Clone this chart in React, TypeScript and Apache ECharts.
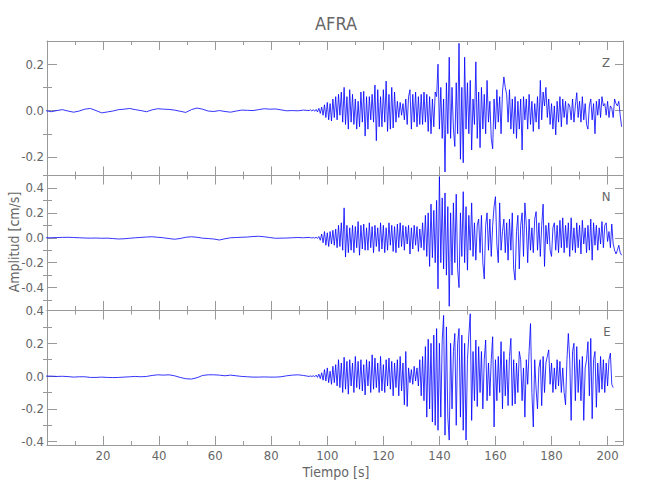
import React, { useEffect, useRef } from "react";
import * as echarts from "echarts";

const TITLE = "AFRA";
const X_NAME = "Tiempo [s]";
const Y_NAME = "Amplitud [cm/s]";
const COMPONENTS = ["Z", "N", "E"];

// sampling of the traces (seconds)
const QUIET_START = -0.5;
const QUIET_STEP = 2;
const ACTIVE_START = 94;
const ACTIVE_STEP = 0.5;

const X_MIN = 0;
const X_MAX = 205.5;
const X_INTERVAL = 20;

// y ranges (cm/s) and ticks of each panel
const Y_RANGES = [
  [-0.28, 0.3],
  [-0.58, 0.5],
  [-0.42, 0.4],
];
const Y_MAJOR = [
  [-0.2, 0, 0.2],
  [-0.4, -0.2, 0, 0.2, 0.4],
  [-0.4, -0.2, 0, 0.2, 0.4],
];
const Y_MINOR = [
  [-0.1, 0.1],
  [-0.5, -0.3, -0.1, 0.1, 0.3, 0.5],
  [-0.3, -0.1, 0.1, 0.3],
];

// pre-event noise
const zQuiet = [0, -.005, 0, .004, -.002, -.007, -.002, .006, .009, 0,
  -.01, -.006, -.002, .004, .006, .009, .004, 0, -.005, .003,
  .008, .006, .005, .002, -.003, -.008, .004, .011, .006, -.002,
  -.004, 0, -.004, -.007, -.002, .002, .001, 0, .004, .008,
  .006, .007, .003, -.001, 0, -.001, .002, 0];
const nQuiet = [0, 0, .002, .003, .004, .002, 0, -.002, -.003, -.002,
  -.004, -.003, -.006, -.01, -.008, -.004, 0, .003, .006, .008,
  .004, 0, -.006, -.012, -.006, .004, .008, .004, -.003, -.006,
  -.01, -.018, -.008, 0, .002, .004, .006, .01, .012, .008,
  .002, -.004, -.003, -.002, 0, .002, 0, .003];
const eQuiet = [0, 0, -.002, -.001, -.003, -.006, -.004, -.004, -.008, -.008,
  -.006, -.008, -.009, -.008, -.006, -.004, -.002, -.004, -.002, .004,
  .008, .006, .008, .002, -.008, -.016, -.018, -.01, .004, .008,
  .008, .006, .002, .006, .002, -.002, -.004, -.006, -.006, -.005,
  -.006, -.006, -.004, .002, .006, .008, .004, -.002];

// event
const zActive = [
  .003, -.002, .004, -.003, .005, -.006, .01, -.012, .015, -.02,
  .025, -.03, .035, -.04, .03, -.045, .05, -.03, .06, -.04,
  .07, -.02, .08, -.05, .1, -.06, .06, -.08, .09, -.05,
  .07, -.06, .05, -.08, .04, -.07, .08, -.05, .083, -.11,
  .06, -.08, .06, -.04, .07, -.05, .11, -.13, .09, -.07,
  .06, -.07, .09, -.05, .127, -.09, .07, -.08, .1, -.075,
  .08, -.05, .04, -.03, .035, -.02, .03, -.04, .05, -.06,
  .06, .09, -.08, .07, -.05, .08, -.07, .06, -.06, .07,
  -.06, .08, -.05, .07, -.09, .06, -.1, .05, -.07, .08,
  .06, .2, -.08, .1, -.12, .05, -.265, .12, -.1, .23,
  -.12, .1, -.08, -.155, .12, -.1, .29, -.21, .1, -.225,
  .23, -.08, .12, -.1, .13, -.17, .05, -.06, .21, -.12,
  .08, -.16, .1, -.08, .07, -.1, .13, -.05, .04, -.12,
  -.165, .05, -.08, .09, -.05, .06, -.1, .08, .145, .1,
  .07, -.05, .09, -.08, .05, -.1, .06, -.12, .04, -.08,
  .05, -.17, .06, -.04, .05, -.08, .07, -.06, .04, -.09,
  .03, -.05, .06, -.08, .13, -.04, .08, .02, .1, -.03,
  .05, -.06, .03, -.08, .02, -.105, .04, -.05, .06, -.07,
  .05, -.03, .04, -.06, .03, .02, -.04, .05, -.05, .02,
  .077, -.03, .04, -.05, .06, -.04, .03, -.06, -.08, .02,
  .05, -.04, .03, -.1, .04, -.02, .05, -.03, .06, .02,
  .03, -.02, .04, -.03, .02, .01, -.03, .05, .03, .02,
  .04, -.02, -.07];
const nActive = [
  .001, -.002, .002, -.003, .004, -.005, .01, -.02, .03, -.04,
  .05, -.06, .04, -.07, .05, -.05, .06, -.06, .07, -.08,
  .1, -.07, .12, -.1, .24, -.155, .1, -.12, .08, -.1,
  .1, -.12, .09, -.08, .13, -.14, .1, -.09, .11, -.1,
  .08, -.1, .12, -.08, .09, -.12, .1, -.07, .08, -.11,
  .12, -.09, .1, -.12, .08, -.1, .12, -.06, .1, -.11,
  .09, -.12, .11, -.08, .12, -.07, .1, -.1, .09, -.05,
  .1, -.13, .08, -.09, .1, -.06, .09, -.11, .07, -.08,
  .12, -.1, .18, -.15, .2, -.23, .27, -.16, .22, -.2,
  .3, -.41, .49, -.2, .32, -.25, .36, -.3, .25, -.55,
  .2, -.3, .28, -.2, .35, -.25, -.4, .2, -.15, .37,
  -.2, .25, -.26, .18, -.1, .28, -.15, .12, -.18, .1,
  .15, -.12, .18, -.2, -.33, .1, .2, -.1, .15, -.15,
  .1, .25, .33, -.05, -.2, .28, -.1, .05, .15, -.12,
  .12, -.18, .15, -.1, .2, -.25, -.34, .05, .18, -.25,
  .1, .2, -.15, .28, .1, -.2, .15, -.1, .08, -.12,
  .15, .21, -.1, .12, -.15, .1, .27, -.23, .1, -.05,
  .12, -.1, -.15, .08, .12, -.1, .1, -.12, .14, -.08,
  .16, -.12, .1, -.08, .12, -.15, .16, -.1, .08, -.12,
  .12, -.08, .1, -.13, .14, -.05, .08, -.12, .1, -.1,
  .15, -.18, .12, -.06, .1, -.1, .08, -.05, .13, -.08,
  .1, .12, -.03, .05, -.08, .11, -.05, -.1, -.13, -.1,
  -.06, -.12, -.14];
const eActive = [
  .001, -.002, .002, -.004, .006, -.008, .012, -.015, .02, -.025,
  .04, -.03, .05, -.04, .03, -.05, .06, -.04, .07, -.06,
  .1, -.07, .08, -.1, .115, -.08, .09, -.11, .1, -.06,
  .08, -.1, .12, -.07, .09, -.08, .1, -.09, .07, -.115,
  .1, -.06, .09, -.1, .13, -.08, .11, -.07, .08, -.1,
  .12, -.09, .07, -.1, .1, -.06, .11, -.08, .09, -.12,
  .08, -.07, .1, -.12, .12, -.09, .08, -.175, .15, -.185,
  .05, -.04, .04, -.05, .06, -.03, .05, -.06, .1, -.12,
  .12, -.15, .18, -.25, .225, -.2, .2, -.28, .25, -.3,
  .29, -.33, .2, -.25, .22, .37, -.36, .3, -.25, -.39,
  .2, -.2, .15, .26, -.3, .2, .29, -.25, .25, -.33,
  .2, -.39, .1, .25, .38, -.27, .15, -.15, .22, -.185,
  .18, -.1, .15, -.2, .1, .22, -.15, .08, -.12, .1,
  .24, -.31, .1, -.15, .12, -.1, .21, -.2, .15, -.12,
  .1, -.18, .12, .23, -.18, .1, -.17, .08, -.1, .15,
  .1, -.15, .05, -.25, .1, -.05, .15, .32, -.1, -.31,
  .1, -.08, -.2, .05, .1, -.18, .12, -.1, .08, .12,
  .16, -.05, .08, -.1, .05, -.08, .1, -.06, .09, -.1,
  .05, -.1, -.175, .1, .26, .1, -.27, .15, .2, -.15,
  .18, -.1, .1, -.15, .12, -.27, .05, .1, .21, -.12,
  .23, -.26, .1, .15, -.19, .08, -.1, .12, -.08, .1,
  -.1, .08, -.06, .1, .14, -.05, -.07];

const QUIET = [zQuiet, nQuiet, eQuiet];
const ACTIVE = [zActive, nActive, eActive];

const FONT = "'Liberation Sans Narrow', 'DejaVu Sans Condensed', 'Liberation Sans', sans-serif";
const TEXT_COLOR = "#666";
const FRAME_COLOR = "#999";
const TRACE_COLOR = "#0000ff";

const GRID_LEFT = 47;
const GRID_WIDTH = 576;
const GRID_TOPS = [41, 175.5, 310.5];
const GRID_HEIGHT = 134.5;

function buildTrace(quiet: number[], active: number[]): number[][] {
  const pts: number[][] = [];
  quiet.forEach((v, i) => pts.push([QUIET_START + i * QUIET_STEP, v]));
  active.forEach((v, i) => pts.push([ACTIVE_START + i * ACTIVE_STEP, v]));
  return pts;
}

function fmt(v: number): string {
  return Math.abs(v) < 1e-9 ? "0.0" : v.toFixed(1);
}

export default function App() {
  const ref = useRef<HTMLDivElement>(null);
  useEffect(() => {
    if (!ref.current) return;
    const chart = echarts.init(ref.current, undefined, { renderer: "svg" });
    const grid: any[] = [];
    const xAxis: any[] = [];
    const yAxis: any[] = [];
    const series: any[] = [];
    const lineStyle = { color: FRAME_COLOR, width: 1 };
    for (let i = 0; i < 3; i++) {
      grid.push({ left: GRID_LEFT, top: GRID_TOPS[i], width: GRID_WIDTH, height: GRID_HEIGHT });
      ["bottom", "top"].forEach((pos) => {
        xAxis.push({
          type: "value",
          gridIndex: i,
          position: pos,
          min: X_MIN,
          max: X_MAX,
          interval: X_INTERVAL,
          axisLine: { show: true, onZero: false, lineStyle },
          axisTick: { show: true, inside: true, length: 9, lineStyle },
          minorTick: { show: true, splitNumber: 2, length: 4, lineStyle },
          splitLine: { show: false },
          minorSplitLine: { show: false },
          axisLabel: {
            show: i === 2 && pos === "bottom",
            showMinLabel: false,
            showMaxLabel: false,
            color: TEXT_COLOR,
            fontFamily: FONT,
            fontSize: 13,
            margin: 4,
            formatter: (v: number) => (v <= 0 || v > 200 ? "" : String(v)),
          },
        });
      });
      const [ymin, ymax] = Y_RANGES[i];
      const base = { type: "value", gridIndex: i, min: ymin, max: ymax, splitLine: { show: false } };
      yAxis.push({
        ...base,
        position: "left",
        axisLine: { show: true, onZero: false, lineStyle },
        axisTick: { show: true, inside: true, length: 10, lineStyle, customValues: Y_MAJOR[i] },
        axisLabel: {
          show: true,
          customValues: Y_MAJOR[i],
          formatter: fmt,
          color: TEXT_COLOR,
          fontFamily: FONT,
          fontSize: 13,
          margin: 3,
        },
      });
      yAxis.push({
        ...base,
        position: "left",
        axisLine: { show: false },
        axisTick: { show: true, inside: true, length: 5, lineStyle, customValues: Y_MINOR[i] },
        axisLabel: { show: false },
      });
      yAxis.push({
        ...base,
        position: "right",
        axisLine: { show: true, onZero: false, lineStyle },
        axisTick: { show: true, inside: true, length: 8, lineStyle, customValues: Y_MAJOR[i] },
        axisLabel: { show: false },
      });
      yAxis.push({
        ...base,
        position: "right",
        axisLine: { show: false },
        axisTick: { show: true, inside: true, length: 4, lineStyle, customValues: Y_MINOR[i] },
        axisLabel: { show: false },
      });
      series.push({
        type: "line",
        name: COMPONENTS[i],
        xAxisIndex: 2 * i,
        yAxisIndex: 4 * i,
        data: buildTrace(QUIET[i], ACTIVE[i]),
        showSymbol: false,
        symbol: "none",
        silent: true,
        clip: true,
        lineStyle: { color: TRACE_COLOR, width: 0.8 },
      });
    }
    const textStyle = (text: string, size: number) => ({
      text,
      fill: TEXT_COLOR,
      font: `${size}px ${FONT}`,
      textAlign: "center",
      textVerticalAlign: "middle",
    });
    chart.setOption({
      animation: false,
      grid,
      xAxis,
      yAxis,
      series,
      graphic: [
        { type: "text", x: 336, y: 23, style: textStyle(TITLE, 18) },
        { type: "text", x: 336, y: 472, style: textStyle(X_NAME, 14) },
        { type: "text", x: 14, y: 242, rotation: Math.PI / 2, style: textStyle(Y_NAME, 14) },
        { type: "text", x: 606, y: 62, style: textStyle(COMPONENTS[0], 13) },
        { type: "text", x: 606, y: 196, style: textStyle(COMPONENTS[1], 13) },
        { type: "text", x: 607, y: 331, style: textStyle(COMPONENTS[2], 13) },
      ],
    });
    return () => chart.dispose();
  }, []);
  return (
    <div
      ref={ref}
      style={{ width: 650, height: 500, position: "absolute", left: 0, top: 0, background: "#fff" }}
    />
  );
}
